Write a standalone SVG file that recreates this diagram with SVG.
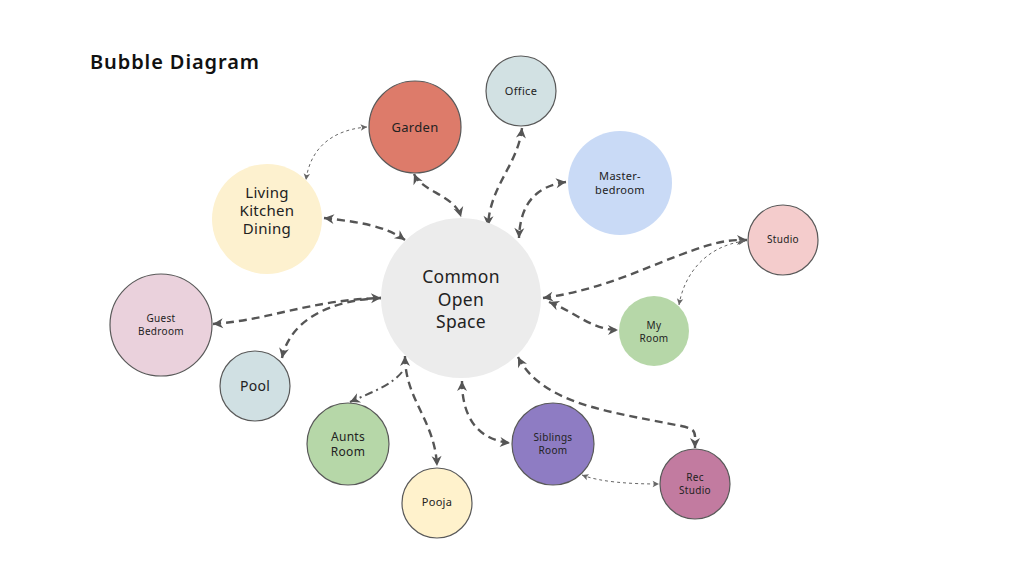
<svg xmlns="http://www.w3.org/2000/svg" width="1027" height="578" viewBox="0 0 1027 578">
<style>
  .lbl { font-family: "Noto Sans", "Open Sans", sans-serif; fill: #222; text-anchor: middle; letter-spacing: 0.3px; }
  .title { font-family: "Noto Sans", sans-serif; font-weight: 600; font-size: 20px; fill: #111; letter-spacing: 0.9px; }
  .st { stroke: #595959; stroke-width: 1.2; }
  .thick { fill: none; stroke: #555; stroke-width: 2.4; stroke-dasharray: 8 5; marker-start: url(#ah); marker-end: url(#ah); }
  .thin { fill: none; stroke: #666; stroke-width: 1; stroke-dasharray: 3 3; marker-start: url(#ahs); marker-end: url(#ahs); }
  .dd { fill: none; stroke: #555; stroke-width: 2; stroke-dasharray: 8 4 2 4; marker-end: url(#ah); }
</style>
<defs>
  <marker id="ah" viewBox="0 0 12 12" refX="11" refY="6" markerWidth="12" markerHeight="12" markerUnits="userSpaceOnUse" orient="auto-start-reverse">
    <path d="M1,1 L11,6 L1,11 L4,6 z" fill="#555"/>
  </marker>
  <marker id="ahs" viewBox="0 0 10 10" refX="9" refY="5" markerWidth="8" markerHeight="8" markerUnits="userSpaceOnUse" orient="auto-start-reverse">
    <path d="M1,1 L9,5 L1,9 L3,5 z" fill="#666"/>
  </marker>
</defs>
<rect width="1027" height="578" fill="#ffffff"/>
<text class="title" x="90" y="69">Bubble Diagram</text>

<g id="connectors">
  <path class="thick" d="M324,218 C360,222 385,226 405,240"/>
  <path class="thick" d="M414,174 C422,192 455,195 461,217"/>
  <path class="thick" d="M522,128 C518,165 490,185 488,226"/>
  <path class="thick" d="M566,182 C535,186 520,205 519,238"/>
  <path class="thick" d="M543,298 C600,290 640,270 680,255 S730,240 747,240"/>
  <path class="thick" d="M549,302 C575,312 592,330 618,330"/>
  <path class="thick" d="M213,324 C270,320 310,300 381,298"/>
  <path class="thick" d="M381,298 C330,300 290,320 282,358" style="marker-start:none"/>
  <path class="dd" d="M402,372 C392,385 370,393 350,402"/>
  <path class="thick" d="M405,356 C405,400 435,420 437,466"/>
  <path class="thick" d="M462,381 C462,420 480,440 510,443"/>
  <path class="thick" d="M518,357 C540,400 600,410 650,420 S695,425 695,448"/>
  <path class="thin" d="M367,127 C330,130 310,150 306,180"/>
  <path class="thin" d="M745,241 C705,246 684,275 679,305"/>
  <path class="thin" d="M582,475 C600,482 630,484 659,484"/>
</g>

<g id="common">
  <circle cx="461" cy="298" r="80" fill="#ececec"/>
  <text class="lbl" font-size="17.5" x="461" y="283">Common</text>
  <text class="lbl" font-size="17.5" x="461" y="306">Open</text>
  <text class="lbl" font-size="17.5" x="461" y="328">Space</text>
</g>
<g id="garden">
  <circle class="st" cx="415" cy="127" r="46" fill="#dd7b6a"/>
  <text class="lbl" font-size="13" x="415" y="132">Garden</text>
</g>
<g id="living">
  <circle cx="267" cy="219" r="55" fill="#fdf1cf"/>
  <text class="lbl" font-size="15" x="267" y="198">Living</text>
  <text class="lbl" font-size="15" x="267" y="216">Kitchen</text>
  <text class="lbl" font-size="15" x="267" y="234">Dining</text>
</g>
<g id="office">
  <circle class="st" cx="521" cy="91" r="35" fill="#d2e1e3"/>
  <text class="lbl" font-size="11" x="521" y="95">Office</text>
</g>
<g id="master">
  <circle cx="620" cy="183" r="52" fill="#c9daf6"/>
  <text class="lbl" font-size="11" x="620" y="180">Master-</text>
  <text class="lbl" font-size="11" x="620" y="194">bedroom</text>
</g>
<g id="studio">
  <circle class="st" cx="783" cy="240" r="35" fill="#f4cccc"/>
  <text class="lbl" font-size="10" x="783" y="243">Studio</text>
</g>
<g id="myroom">
  <circle cx="654" cy="331" r="35" fill="#b6d7a8"/>
  <text class="lbl" font-size="10" x="654" y="329">My</text>
  <text class="lbl" font-size="10" x="654" y="342">Room</text>
</g>
<g id="guest">
  <circle class="st" cx="161" cy="325" r="51" fill="#ead1dc"/>
  <text class="lbl" font-size="10" x="161" y="322">Guest</text>
  <text class="lbl" font-size="10" x="161" y="335">Bedroom</text>
</g>
<g id="pool">
  <circle class="st" cx="255" cy="386" r="35" fill="#d0e0e3"/>
  <text class="lbl" font-size="14" x="255" y="391">Pool</text>
</g>
<g id="aunts">
  <circle class="st" cx="348" cy="444" r="41" fill="#b6d7a8"/>
  <text class="lbl" font-size="12" x="348" y="441">Aunts</text>
  <text class="lbl" font-size="12" x="348" y="456">Room</text>
</g>
<g id="pooja">
  <circle class="st" cx="437" cy="503" r="35" fill="#fff2cc"/>
  <text class="lbl" font-size="11" x="437" y="506">Pooja</text>
</g>
<g id="siblings">
  <circle class="st" cx="553" cy="444" r="41" fill="#8e7cc3"/>
  <text class="lbl" font-size="10" x="553" y="441">Siblings</text>
  <text class="lbl" font-size="10" x="553" y="454">Room</text>
</g>
<g id="rec">
  <circle class="st" cx="695" cy="484" r="35" fill="#c27ba0"/>
  <text class="lbl" font-size="10" x="695" y="481">Rec</text>
  <text class="lbl" font-size="10" x="695" y="494">Studio</text>
</g>
</svg>
